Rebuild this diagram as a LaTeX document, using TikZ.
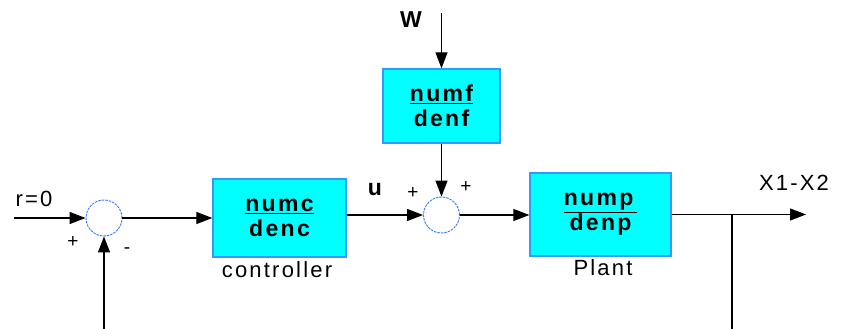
\documentclass[tikz,border=0pt]{standalone}
\usepackage{fontspec}
\setmainfont{Liberation Sans}[LetterSpace=10]
\usetikzlibrary{arrows.meta}
\definecolor{boxcyan}{HTML}{00FFFF}
\definecolor{boxblue}{HTML}{3399FF}
\definecolor{sumblue}{HTML}{2E7BFF}
\tikzset{
  blockbox/.style={draw=boxblue, line width=1.3pt, fill=boxcyan, inner sep=0pt, font=\fontsize{23}{25}\selectfont\bfseries, align=center},
  sumnode/.style={draw=sumblue, dash pattern=on 2.5pt off 1pt, line width=0.9pt, circle, minimum size=36pt, inner sep=0pt},
  sig/.style={line width=1.2pt, -{Triangle[length=16pt,width=12pt]}},
  wire/.style={line width=1.2pt},
  lbl/.style={font=\fontsize{22}{24}\selectfont, inner sep=0pt},
  boldlbl/.style={font=\fontsize{23}{25}\selectfont\bfseries, inner sep=0pt},
  sgn/.style={font=\fontsize{19}{21}\selectfont, inner sep=0pt}
}
\begin{document}
\begin{tikzpicture}[x=1pt,y=-1pt]
\useasboundingbox (0,0) rectangle (849,329);
% blocks
\node[blockbox, minimum width=133pt, minimum height=78pt] (ctrl) at (279.5,218) {\underline{numc}\\[0pt]denc};
\node[blockbox, minimum width=117pt, minimum height=74pt] (dist) at (441.5,106) {\underline{numf}\\[0pt]denf};
\node[blockbox, minimum width=141pt, minimum height=83pt] (plant) at (600.5,214.5) {\underline{nump\,}\\[0pt]denp};
% summing junctions
\node[sumnode] (s1) at (104,218) {};
\node[sumnode] (s2) at (441.5,215) {};
% free ends
\coordinate (rin) at (14,218);
\coordinate (win) at (441.5,13);
\coordinate (fbin) at (104,329);
\coordinate (br) at (732,214.5);
\coordinate (brd) at (732,329);
\coordinate (yout) at (806,214.5);
% connectors
\draw[sig] (rin) -- (s1.west);
\draw[sig] (fbin) -- (s1.south);
\draw[sig] (s1.east) -- (ctrl.west);
\draw[sig] (ctrl.east |- s2.west) -- (s2.west);
\draw[sig] (win) -- (dist.north);
\draw[sig] (dist.south) -- (s2.north);
\draw[sig] (s2.east) -- (s2.east -| plant.west);
\draw[sig] (plant.east |- br) -- (yout);
\draw[wire] (br) -- (brd);
% labels
\node[lbl] (rlbl) at (34,199) {r=0};
\node[sgn] (p1) at (73,242) {+};
\node[sgn] (m1) at (127,251) {-};
\node[boldlbl] (ulbl) at (375,190) {u};
\node[sgn] (p2) at (413,193) {+};
\node[sgn] (p3) at (466,187) {+};
\node[boldlbl] (wlbl) at (411,20) {W};
\node[lbl] (clbl) at (277,270) {controller};
\node[lbl] (plbl) at (603,268) {Plant};
\node[lbl] (xlbl) at (794,183) {X1-X2};
\end{tikzpicture}
\end{document}
